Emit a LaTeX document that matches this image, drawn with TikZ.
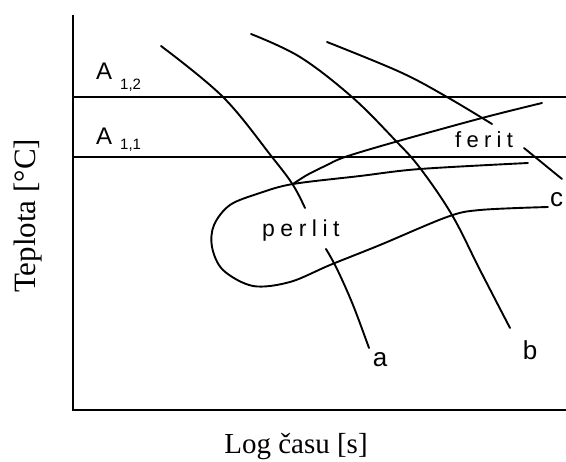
\documentclass[tikz,border=0pt]{standalone}
\usepackage{fontspec}
\setmainfont{Liberation Serif}
\newfontfamily\labfont[LetterSpace=24]{Liberation Sans}
\newfontfamily\afont{Liberation Sans}
\begin{document}
\begin{tikzpicture}[x=1pt,y=-1pt,
  curve/.style={line width=1.9pt,line cap=round,line join=round},
  axis/.style={line width=2pt},
  level/.style={line width=1.6pt},
  lab/.style={inner sep=0pt,font=\labfont\fontsize{23}{26}\selectfont},
  clab/.style={inner sep=0pt,font=\afont\fontsize{26}{28}\selectfont},
  bigA/.style={inner sep=0pt,anchor=base west,font=\afont\fontsize{24}{26}\selectfont},
  subA/.style={inner sep=0pt,anchor=base west,font=\afont\fontsize{15}{17}\selectfont},
  title/.style={inner sep=0pt,font=\fontsize{29}{32}\selectfont}]
\useasboundingbox (0,0) rectangle (566,462);
% axes
\coordinate (o) at (73,410);
\coordinate (ytop) at (73,15);
\coordinate (xend) at (566,410);
\draw[axis] (ytop) -- (o) -- (xend);
% A lines
\coordinate (a12l) at (73,97);
\coordinate (a12r) at (566,97);
\coordinate (a11l) at (73,157);
\coordinate (a11r) at (566,157);
\draw[level] (a12l) -- (a12r);
\draw[level] (a11l) -- (a11r);
% A labels
\node[bigA] (A12) at (96,80) {A};
\node[subA] (s12) at (120,90) {1,2};
\node[bigA] (A11) at (96,145) {A};
\node[subA] (s11) at (120,150) {1,1};
% C-curve (pearlite)
\draw[curve] plot[smooth,tension=0.55] coordinates {(548,207) (480,210) (447,217) (380,245) (330,265) (290,282) (253,286) (223,270) (212,247) (214,225) (230,205) (260,193) (293,184) (360,176) (420,169) (528,163)};
% ferrite start curve
\draw[curve] plot[smooth,tension=0.55] coordinates {(293,184) (307,175) (325,166) (345,157) (395,142) (482,118) (542,103)};
% cooling curve a
\draw[curve] plot[smooth,tension=0.6] coordinates {(161,46) (223,97) (272,157) (293,185) (305,208)};
\draw[curve] plot[smooth,tension=0.6] coordinates {(326,249) (337,269) (353,305) (369,348)};
% cooling curve b
\draw[curve] plot[smooth,tension=0.6] coordinates {(251,34) (300,57) (352,97) (395,140) (420,168) (452,215) (480,270) (510,328)};
% cooling curve c
\draw[curve] plot[smooth,tension=0.6] coordinates {(327,42) (400,72) (447,97) (492,124)};
\draw[curve] (524,148) -- (562,179);
% labels
\node[lab,anchor=base west] (perlit) at (262,237) {perlit};
\node[lab,anchor=base west,font=\labfont\fontsize{22}{24}\selectfont] (ferit) at (455,148) {ferit};
\node[clab,anchor=base] (la) at (380,367) {a};
\node[clab,anchor=base] (lb) at (530,360) {b};
\node[clab,anchor=base west] (lc) at (550,207) {c};
% axis titles
\node[title,anchor=base] (xt) at (296,454) {Log času [s]};
\node[title,rotate=90,anchor=center,font=\fontsize{31}{34}\selectfont] (yt) at (28,216) {Teplota [°C]};
\end{tikzpicture}
\end{document}
